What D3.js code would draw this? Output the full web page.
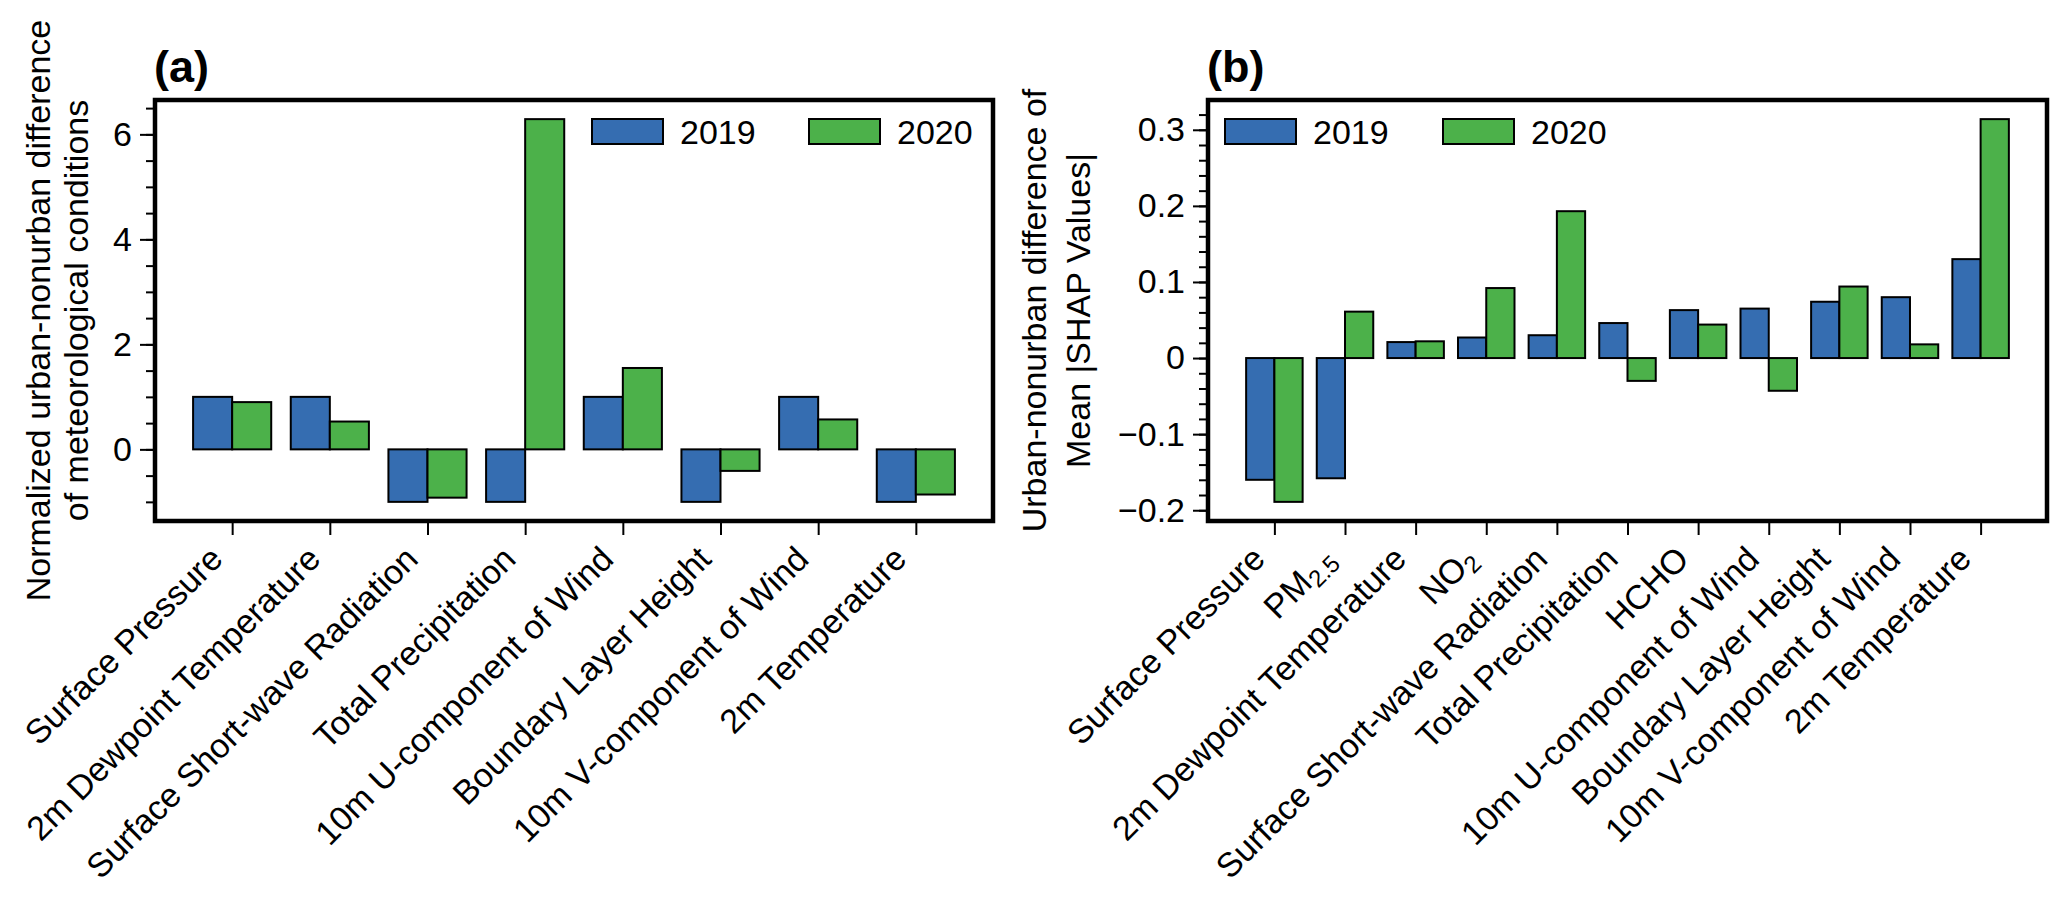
<!DOCTYPE html>
<html>
<head>
<meta charset="utf-8">
<script src="https://cdn.jsdelivr.net/npm/d3@7"></script>
<style>
  body { margin: 0; background: #fff; }
  svg text { font-family: "Liberation Sans", Arial, Helvetica, sans-serif; fill: #000; }
</style>
</head>
<body>
<div id="my_dataviz"></div>
<script>
// legend / series
const years = ["2019", "2020"];
const colors = ["#356db1", "#4cb14a"];

// (a) normalized meteorological differences
const metCategories = ["Surface Pressure", "2m Dewpoint Temperature", "Surface Short-wave Radiation",
  "Total Precipitation", "10m U-component of Wind", "Boundary Layer Height",
  "10m V-component of Wind", "2m Temperature"];
const met2019 = [1.0, 1.0, -1.0, -1.0, 1.0, -1.0, 1.0, -1.0];
const met2020 = [0.90, 0.53, -0.92, 6.29, 1.55, -0.41, 0.57, -0.86];
const metTicks = [0, 2, 4, 6];

// (b) mean |SHAP| differences
const shapCategories = ["Surface Pressure", "PM2.5", "2m Dewpoint Temperature", "NO2",
  "Surface Short-wave Radiation", "Total Precipitation", "HCHO", "10m U-component of Wind",
  "Boundary Layer Height", "10m V-component of Wind", "2m Temperature"];
const shap2019 = [-0.160, -0.158, 0.021, 0.027, 0.030, 0.046, 0.063, 0.065, 0.074, 0.080, 0.130];
const shap2020 = [-0.189, 0.061, 0.022, 0.092, 0.193, -0.030, 0.044, -0.043, 0.094, 0.018, 0.314];
const shapTicks = [-0.2, -0.1, 0, 0.1, 0.2, 0.3];

// labels that need a subscript
const subscripts = {"PM2.5": ["PM", "2.5"], "NO2": ["NO", "2"]};

const svg = d3.select("#my_dataviz")
  .append("svg")
  .attr("width", 2067)
  .attr("height", 904);

const fs = 34;

function drawPanel(p) {
  const n = p.categories.length;
  const barW = 0.4;

  // matplotlib-like 5% margins
  const x0 = -barW, x1 = n - 1 + barW, xm = 0.05 * (x1 - x0);
  const all = p.series.flat().concat([0]);
  const y0 = d3.min(all), y1 = d3.max(all), ym = 0.05 * (y1 - y0);

  const x = d3.scaleLinear().domain([x0 - xm, x1 + xm]).range([p.left, p.right]);
  const y = d3.scaleLinear().domain([y0 - ym, y1 + ym]).range([p.bottom, p.top]);

  const g = svg.append("g");

  // bars
  p.series.forEach((vals, k) => {
    g.selectAll(null)
      .data(vals)
      .join("rect")
        .attr("x", (d, i) => x(i - barW + k * barW))
        .attr("width", x(barW) - x(0))
        .attr("y", d => y(Math.max(0, d)))
        .attr("height", d => Math.abs(y(d) - y(0)))
        .attr("fill", colors[k])
        .attr("stroke", "#000")
        .attr("stroke-width", 2);
  });

  // x axis
  const xAxis = g.append("g")
    .attr("transform", `translate(0,${p.bottom})`)
    .call(d3.axisBottom(x).tickValues(d3.range(n)).tickSize(14).tickFormat(i => p.categories[i]));
  xAxis.select(".domain").remove();
  xAxis.selectAll(".tick line").attr("stroke-width", 2);
  xAxis.selectAll(".tick text")
    .attr("y", null).attr("dy", null)
    .attr("font-size", fs)
    .attr("text-anchor", "end")
    .attr("transform", "translate(-8,40) rotate(-45)")
    .each(function(i) {
      const parts = subscripts[p.categories[i]];
      if (!parts) return;
      const t = d3.select(this).text(null);
      t.append("tspan").text(parts[0]);
      t.append("tspan").attr("font-size", 24).attr("dy", 6).text(parts[1]);
    });

  // y axis, minor then major
  const minorAxis = g.append("g")
    .attr("transform", `translate(${p.left},0)`)
    .call(d3.axisLeft(y).tickValues(p.minor.filter(v => v >= y.domain()[0] && v <= y.domain()[1]))
      .tickSize(9).tickFormat(""));
  minorAxis.select(".domain").remove();
  minorAxis.selectAll(".tick line").attr("stroke-width", 2);

  const yAxis = g.append("g")
    .attr("transform", `translate(${p.left},0)`)
    .call(d3.axisLeft(y).tickValues(p.ticks).tickSize(15).tickPadding(8).tickFormat(p.format));
  yAxis.select(".domain").remove();
  yAxis.selectAll(".tick line").attr("stroke-width", 2);
  yAxis.selectAll(".tick text").attr("font-size", fs);

  // frame
  g.append("rect")
    .attr("x", p.left).attr("y", p.top)
    .attr("width", p.right - p.left).attr("height", p.bottom - p.top)
    .attr("fill", "none").attr("stroke", "#000").attr("stroke-width", 4.5);

  // legend
  years.forEach((yr, k) => {
    g.append("rect")
      .attr("x", p.legendX[k]).attr("y", 119)
      .attr("width", 71).attr("height", 25)
      .attr("fill", colors[k]).attr("stroke", "#000").attr("stroke-width", 2);
    g.append("text")
      .attr("x", p.legendX[k] + 88).attr("y", 144)
      .attr("font-size", fs)
      .text(yr);
  });

  // panel title
  g.append("text")
    .attr("x", p.left - 1).attr("y", 82)
    .attr("font-size", 45).attr("font-weight", "bold")
    .text(p.title);

  // y label, two lines
  const cy = (p.top + p.bottom) / 2;
  p.ylabel.forEach((line, k) => {
    g.append("text")
      .attr("transform", `translate(${p.ylabelX[k]},${cy}) rotate(-90)`)
      .attr("text-anchor", "middle")
      .attr("font-size", fs)
      .text(line);
  });
}

const fmtB = d => d === 0 ? "0" : d3.format(".1f")(d);

drawPanel({
  title: "(a)",
  categories: metCategories,
  series: [met2019, met2020],
  ticks: metTicks,
  minor: d3.range(-2, 14).map(i => i * 0.5),
  format: d3.format("d"),
  left: 155, right: 993, top: 100, bottom: 521,
  legendX: [592, 809],
  ylabel: ["Normalized urban-nonurban difference", "of meteorological conditions"],
  ylabelX: [50, 88]
});

drawPanel({
  title: "(b)",
  categories: shapCategories,
  series: [shap2019, shap2020],
  ticks: shapTicks,
  minor: d3.range(-10, 17).map(i => +(i * 0.02).toFixed(2)),
  format: fmtB,
  left: 1208, right: 2047, top: 100, bottom: 521,
  legendX: [1225, 1443],
  ylabel: ["Urban-nonurban difference of", "Mean |SHAP Values|"],
  ylabelX: [1046, 1090]
});
</script>
</body>
</html>
